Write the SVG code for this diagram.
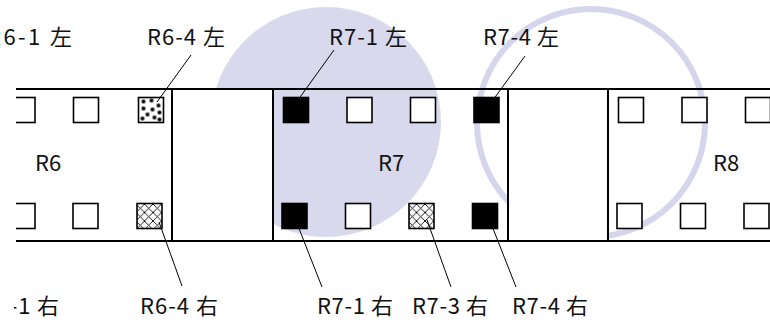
<svg xmlns="http://www.w3.org/2000/svg" width="770" height="332" viewBox="0 0 770 332">
<style>
text{font-family:"Noto Sans CJK JP","Noto Sans",sans-serif;font-size:22px;fill:#111}
.frame{stroke:#000;stroke-width:2;fill:none}
.sq{fill:#fff;stroke:#000;stroke-width:1.6}
.blk{fill:#000;stroke:#000;stroke-width:1.6}
.hat{fill:url(#hatch);stroke:#000;stroke-width:1.6}
.dot{fill:url(#dots);stroke:#000;stroke-width:1.6}
.lead{stroke:#000;stroke-width:1;fill:none}
</style>
<defs>
<pattern id="hatch" patternUnits="userSpaceOnUse" width="8.5" height="8.5" x="0" y="0">
<rect width="8.5" height="8.5" fill="#fff"/>
<path d="M0,0L8.5,8.5M8.5,0L0,8.5" stroke="#000" stroke-width="0.9"/>
</pattern>
<pattern id="dots" patternUnits="userSpaceOnUse" width="25" height="25" x="138.5" y="97.5">
<rect width="25" height="25" fill="#fff"/>
<g fill="#000">
<circle cx="5" cy="4" r="2"/>
<circle cx="13" cy="3" r="2"/>
<circle cx="20" cy="8" r="2"/>
<circle cx="5" cy="11" r="2"/>
<circle cx="14" cy="12" r="2"/>
<circle cx="21" cy="15" r="2"/>
<circle cx="9" cy="17" r="2"/>
<circle cx="16" cy="20" r="2"/>
<circle cx="4" cy="21" r="2"/>
<circle cx="21" cy="22" r="2"/>
</g>
</pattern>
<clipPath id="clipL"><rect x="16" y="0" width="754" height="332"/></clipPath>
<clipPath id="clipB"><rect x="14" y="250" width="200" height="82"/></clipPath>
</defs>

<g id="highlight-R7">
<circle cx="326" cy="122" r="115" fill="#d9d9ed"/>
</g>

<g id="box-R6-R7">
<rect x="173" y="89" width="100" height="152" fill="#fff"/>
</g>
<g id="ring-R8">
<circle cx="591" cy="123" r="114" fill="none" stroke="#d5d5ec" stroke-width="6"/>
</g>
<g id="box-R7-R8">
<rect x="508" y="89" width="100" height="152" fill="#fff"/>
</g>

<g id="frame" class="frame">
<line x1="16" y1="89" x2="770" y2="89"/>
<line x1="16" y1="241" x2="770" y2="241"/>
<line x1="172" y1="88" x2="172" y2="242"/>
<line x1="273" y1="88" x2="273" y2="242"/>
<line x1="508" y1="88" x2="508" y2="242"/>
<line x1="608" y1="88" x2="608" y2="242"/>
</g>

<g id="R6" clip-path="url(#clipL)">
<rect class="sq" x="10" y="97.5" width="25" height="25"/>
<rect class="sq" x="73.5" y="97.5" width="25" height="25"/>
<rect class="dot" x="138.5" y="97.5" width="25" height="25"/>
<rect class="sq" x="10" y="203.5" width="25" height="25"/>
<rect class="sq" x="73" y="203.5" width="25" height="25"/>
<rect class="hat" x="137" y="203.5" width="25" height="25"/>
<text x="35" y="171">R6</text>
</g>

<g id="R7">
<rect class="blk" x="283.5" y="97.5" width="25" height="25"/>
<rect class="sq" x="347" y="97.5" width="25" height="25"/>
<rect class="sq" x="410.5" y="97.5" width="25" height="25"/>
<rect class="blk" x="474" y="97.5" width="25" height="25"/>
<rect class="blk" x="282" y="203.5" width="25" height="25"/>
<rect class="sq" x="345.5" y="203.5" width="25" height="25"/>
<rect class="hat" x="409" y="203.5" width="25" height="25"/>
<rect class="blk" x="472.5" y="203.5" width="25" height="25"/>
<text x="378" y="171">R7</text>
</g>

<g id="R8">
<rect class="sq" x="618.5" y="97.5" width="25" height="25"/>
<rect class="sq" x="682" y="97.5" width="25" height="25"/>
<rect class="sq" x="745.5" y="97.5" width="25" height="25"/>
<rect class="sq" x="617" y="203.5" width="25" height="25"/>
<rect class="sq" x="680.5" y="203.5" width="25" height="25"/>
<rect class="sq" x="744" y="203.5" width="25" height="25"/>
<text x="713" y="171">R8</text>
</g>

<g id="connectors" class="lead">
<line x1="191" y1="55" x2="157" y2="102"/>
<line x1="334" y1="50" x2="298" y2="100"/>
<line x1="525" y1="56" x2="493" y2="100"/>
<line x1="159" y1="222" x2="182" y2="286"/>
<line x1="298" y1="226" x2="322" y2="287"/>
<line x1="427" y1="220" x2="451" y2="287"/>
<line x1="492" y1="226" x2="516" y2="287"/>
</g>

<g id="labels">
<text x="-13" y="45" textLength="85" lengthAdjust="spacing">R6-1 左</text>
<text x="147" y="45" textLength="78" lengthAdjust="spacing">R6-4 左</text>
<text x="329" y="45" textLength="78" lengthAdjust="spacing">R7-1 左</text>
<text x="483" y="45" textLength="76" lengthAdjust="spacing">R7-4 左</text>
<text x="-18" y="314" textLength="77" lengthAdjust="spacing" clip-path="url(#clipB)">R6-1 右</text>
<text x="140" y="314" textLength="78" lengthAdjust="spacing">R6-4 右</text>
<text x="317" y="314" textLength="76" lengthAdjust="spacing">R7-1 右</text>
<text x="412" y="314" textLength="76" lengthAdjust="spacing">R7-3 右</text>
<text x="512" y="314" textLength="76" lengthAdjust="spacing">R7-4 右</text>
</g>
</svg>
